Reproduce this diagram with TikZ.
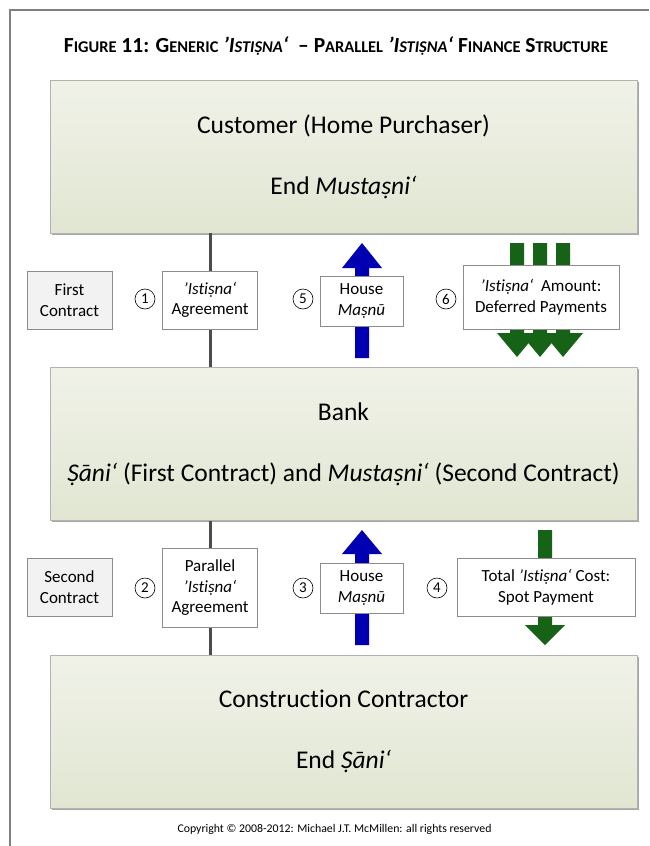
\documentclass[tikz,border=0pt]{standalone}
\usepackage{fontspec}
\setmainfont{Carlito}[Ligatures=NoCommon]
\usetikzlibrary{shadows}
\definecolor{paleTop}{RGB}{240,242,232}
\definecolor{paleBot}{RGB}{225,230,210}
\definecolor{flowBlue}{RGB}{0,0,178}
\definecolor{flowGreen}{RGB}{22,98,22}
\definecolor{frameGray}{RGB}{128,128,128}
% small-caps imitation for the heading
\newcommand\scpart[1]{{\fontsize{16.4}{19}\selectfont #1}}
% block arrow: centre x, tip y, head-base y, tail y, colour
\newcommand\blockarrow[5]{%
  \fill[#5] (#1-7,#4) -- (#1-7,#3) -- (#1-20,#3) -- (#1,#2) -- (#1+20,#3) -- (#1+7,#3) -- (#1+7,#4) -- cycle;}
\begin{document}
\begin{tikzpicture}[x=1pt,y=-1pt,
  party/.style={draw=black!30, line width=0.8pt, top color=paleTop, bottom color=paleBot,
    minimum width=587, minimum height=153, inner sep=0pt, align=center,
    font=\fontsize{25.5}{29}\selectfont,
    drop shadow={shadow xshift=1.6pt, shadow yshift=-1.6pt, fill=black!35, opacity=1}},
  lab/.style={draw=black!45, line width=0.6pt, fill=white, align=center, inner sep=1pt,
    font=\fontsize{17}{20.5}\selectfont},
  contract/.style={lab, fill=black!5},
  num/.style={circle, draw, line width=0.6pt, inner sep=0pt, minimum size=20,
    font=\fontsize{15}{15}\selectfont},
  link/.style={line width=3pt, black!70}]
\useasboundingbox (0,0) rectangle (649,846);
\fill[white] (0,0) rectangle (649,846);
% page frame
\draw[frameGray, line width=2pt] (10,846) -- (10,10) -- (649,10);

% heading
\node (title) at (336,46) {\bfseries\fontsize{21.5}{24}\selectfont
  F\scpart{IGURE} 11: G\scpart{ENERIC} \textit{’I\scpart{STIṢNA}‘}\ \ – P\scpart{ARALLEL} \textit{’I\scpart{STIṢNA}‘} F\scpart{INANCE} S\scpart{TRUCTURE}};

% the three parties
\node[party] (cust) at (343.5,156.5) {Customer (Home Purchaser)\\[32pt] End \textit{Mustaṣni‘}};
\node[party] (bank) at (343.5,444) {Bank\\[32pt] \textit{Ṣāni‘} (First Contract) and \textit{Mustaṣni‘} (Second Contract)};
\node[party] (cons) at (343.5,731.5) {Construction Contractor\\[32pt] End \textit{Ṣāni‘}};

% contract links
\coordinate (k1) at (210,300);
\coordinate (k2) at (210,588);
\draw[link] (cust.south -| k1) -- (bank.north -| k1);
\draw[link] (bank.south -| k2) -- (cons.north -| k2);

% flows between customer and bank
\blockarrow{362}{243}{268}{358}{flowBlue}
\blockarrow{517}{357}{333}{243}{flowGreen}
\blockarrow{540}{357}{333}{243}{flowGreen}
\blockarrow{563}{357}{333}{243}{flowGreen}
% flows between bank and contractor
\blockarrow{362}{530}{554}{645}{flowBlue}
\blockarrow{545}{645}{625}{530}{flowGreen}

% first contract labels
\node[contract, minimum width=85, minimum height=58] (c1) at (69.5,300) {First\\Contract};
\node[num] (n1) at (145,299) {1};
\node[lab, minimum width=95, minimum height=58] (a1) at (k1) {\textit{’Istiṣna‘}\\Agreement};
\node[num] (n5) at (303,299) {5};
\node[lab, minimum width=83, minimum height=50] (h1) at (361.5,301) {House\\\textit{Maṣnū}};
\node[num] (n6) at (446,299) {6};
\node[lab, minimum width=156, minimum height=64] (p1) at (541,297) {\textit{’Istiṣna‘}\ \ Amount:\\Deferred Payments};

% second contract labels
\node[contract, minimum width=85, minimum height=58] (c2) at (69.5,587) {Second\\Contract};
\node[num] (n2) at (145,588) {2};
\node[lab, minimum width=95, minimum height=79] (a2) at (k2) {Parallel\\\textit{’Istiṣna‘}\\Agreement};
\node[num] (n3) at (303,588) {3};
\node[lab, minimum width=83, minimum height=50] (h2) at (361.5,588) {House\\\textit{Maṣnū}};
\node[num] (n4) at (437,588) {4};
\node[lab, minimum width=178, minimum height=58] (p2) at (546,587) {Total \textit{’Istiṣna‘} Cost:\\Spot Payment};

% footer
\node[font=\fontsize{11.8}{13}\selectfont] (copy) at (334.5,829) {Copyright © 2008-2012: Michael J.T. McMillen: all rights reserved};
\end{tikzpicture}
\end{document}
